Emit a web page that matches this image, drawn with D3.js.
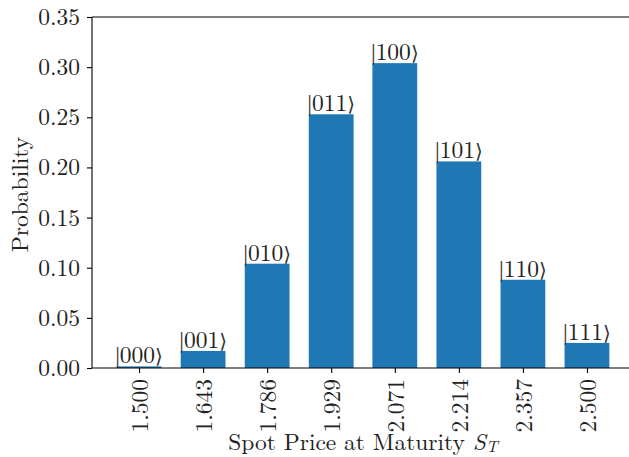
<!DOCTYPE html>
<html><head><meta charset="utf-8">
<script src="https://cdn.jsdelivr.net/npm/d3@7"></script>
<style>body{margin:0;background:#fff}svg{display:block}</style>
</head><body>
<svg id="c" width="629" height="457"></svg>
<script>
const prices = [1.5, 1.643, 1.786, 1.929, 2.071, 2.214, 2.357, 2.5];
const priceLabels = ["1.500","1.643","1.786","1.929","2.071","2.214","2.357","2.500"];
const states = ["000","001","010","011","100","101","110","111"];
const probs = [0.0016, 0.017, 0.104, 0.253, 0.304, 0.206, 0.088, 0.025];
const yTicks = [0, 0.05, 0.10, 0.15, 0.20, 0.25, 0.30, 0.35];

const font = "'Latin Modern Roman','CMU Serif','DejaVu Serif',serif";
const fs = 23.5;
const svg = d3.select("#c");
const L = 92, T = 17, B = 368, R = 634;
const barW = 0.1;
const x = d3.scaleLinear().domain([1.395, 2.605]).range([L, R]);
const y = d3.scaleLinear().domain([0, 0.35]).range([B, T]);

svg.selectAll("rect.bar").data(probs).join("rect")
  .attr("x", (d,i) => x(prices[i] - barW/2))
  .attr("width", (d,i) => x(prices[i] + barW/2) - x(prices[i] - barW/2))
  .attr("y", d => y(d)).attr("height", d => y(0) - y(d))
  .attr("fill", "#1f77b4");

const labs = svg.selectAll("text.lab").data(probs).join("text")
  .attr("x", (d,i) => x(prices[i])).attr("y", d => y(d) - 3)
  .attr("text-anchor", "middle").attr("font-family", font).attr("font-size", fs)
  .attr("fill", "#222");
labs.append("tspan").attr("font-family", "'Liberation Serif'").attr("fill", "#333").text("|");
labs.append("tspan").text((d,i) => states[i]);
labs.append("tspan").attr("font-family", "'DejaVu Serif'").attr("font-size", fs*0.85).attr("fill", "#333").text("\u27E9");

const yAxis = d3.axisLeft(y).tickValues(yTicks).tickFormat(d3.format(".2f")).tickSize(5).tickPadding(7);
const gy = svg.append("g").attr("transform", `translate(${L},0)`).call(yAxis);
gy.select(".domain").remove();
gy.selectAll("text").attr("font-family", font).attr("font-size", fs).attr("fill", "#222");
gy.selectAll("line").attr("stroke-width", 1.1);

const xAxis = d3.axisBottom(x).tickValues(prices).tickFormat((d,i) => priceLabels[i]).tickSize(5).tickPadding(8);
const gx = svg.append("g").attr("transform", `translate(0,${B})`).call(xAxis);
gx.select(".domain").remove();
gx.selectAll("line").attr("stroke-width", 1.1);
gx.selectAll("text").attr("font-family", font).attr("font-size", fs).attr("fill", "#222")
  .attr("transform", "rotate(-90)").attr("text-anchor", "end")
  .attr("x", -11).attr("y", 0).attr("dy", "0.35em");

// spines
svg.append("line").attr("x1", L).attr("x2", L).attr("y1", T).attr("y2", B).attr("stroke", "#000").attr("stroke-width", 1.1);
svg.append("line").attr("x1", L).attr("x2", R).attr("y1", B).attr("y2", B).attr("stroke", "#000").attr("stroke-width", 1.1);
svg.append("line").attr("x1", L).attr("x2", R).attr("y1", T).attr("y2", T).attr("stroke", "#000").attr("stroke-width", 1.1);
svg.append("line").attr("x1", R).attr("x2", R).attr("y1", T).attr("y2", B).attr("stroke", "#000").attr("stroke-width", 1.1);

svg.append("text").attr("transform", `translate(28,${(T+B)/2 + 2}) rotate(-90)`)
  .attr("text-anchor", "middle").attr("font-family", font).attr("font-size", fs).attr("fill", "#222")
  .text("Probability");

const xl = svg.append("text").attr("x", (L+R)/2).attr("y", 450)
  .attr("text-anchor", "middle").attr("font-family", font).attr("font-size", fs).attr("fill", "#222");
xl.append("tspan").text("Spot Price at Maturity ");
xl.append("tspan").attr("font-style", "italic").text("S");
xl.append("tspan").attr("font-style", "italic").attr("font-size", fs*0.7).attr("dy", 2).text("T");
</script>
</body></html>
